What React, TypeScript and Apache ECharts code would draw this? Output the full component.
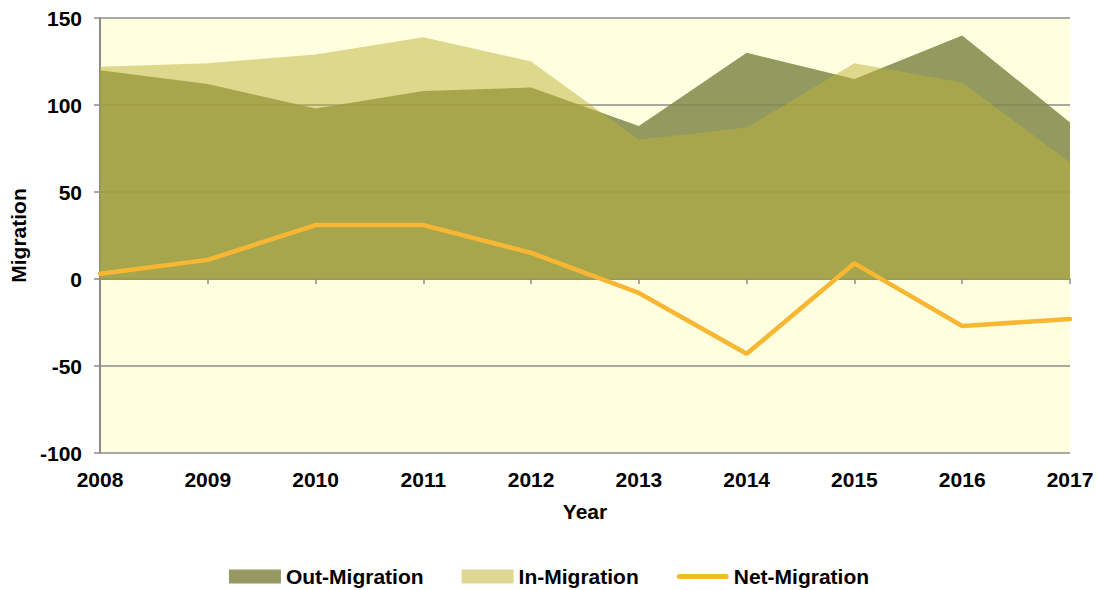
import React, { useEffect, useRef } from "react";
import * as echarts from "echarts";

const years = ["2008", "2009", "2010", "2011", "2012", "2013", "2014", "2015", "2016", "2017"];
const outMigration = [120, 112, 98, 108, 110, 88, 130, 115, 140, 90];
const inMigration = [122, 124, 129, 139, 125, 80, 87, 124, 113, 67];
const netMigration = [3, 11, 31, 31, 15, -8, -43, 9, -27, -23];
const yTicks = { min: -100, max: 150, interval: 50 };

const FONT = "'Liberation Sans', Arial, sans-serif";
const FS = 21;

export default function App() {
  const ref = useRef<HTMLDivElement>(null);
  useEffect(() => {
    if (!ref.current) return;
    const chart = echarts.init(ref.current, undefined, { renderer: "svg" });
    chart.setOption({
      animation: false,
      textStyle: { fontFamily: FONT },
      grid: {
        left: 100,
        right: 28,
        top: 18,
        bottom: 137,
        show: true,
        backgroundColor: "#ffffe0",
        borderWidth: 0,
        containLabel: false,
        outerBoundsMode: "none",
      },
      legend: {
        top: 566,
        left: "center",
        padding: 0,
        itemWidth: 52,
        itemHeight: 14,
        itemGap: 38,
        symbolKeepAspect: true,
        textStyle: { fontFamily: FONT, fontWeight: "bold", fontSize: FS, color: "#000" },
        data: [
          { name: "Out-Migration", icon: "rect", itemStyle: { color: "#969a62" } },
          { name: "In-Migration", icon: "rect", itemStyle: { color: "#dfd893" } },
          {
            name: "Net-Migration",
            icon: "path://M2.5,0 h47 a2.5,2.5 0 0 1 0,5 h-47 a2.5,2.5 0 0 1 0,-5 z",
            itemStyle: { color: "#f7b733" },
          },
        ],
      },
      xAxis: {
        type: "category",
        data: years,
        boundaryGap: false,
        axisLine: { onZero: true, lineStyle: { color: "#8c8c8c", width: 1.5 } },
        axisTick: { show: true, length: 5, lineStyle: { color: "#8c8c8c", width: 1.5 } },
        axisLabel: {
          margin: 16,
          fontFamily: FONT,
          fontWeight: "bold",
          fontSize: FS,
          color: "#000",
          interval: 0,
        },
        name: "Year",
        nameLocation: "middle",
        nameGap: 48,
        nameTextStyle: { fontFamily: FONT, fontWeight: "bold", fontSize: FS, color: "#000" },
        splitLine: { show: false },
      },
      yAxis: {
        type: "value",
        min: yTicks.min,
        max: yTicks.max,
        interval: yTicks.interval,
        axisLine: { show: true, lineStyle: { color: "#8c8c8c", width: 2 } },
        axisTick: { show: true, length: 6, lineStyle: { color: "#8c8c8c", width: 1.5 } },
        axisLabel: {
          margin: 18,
          fontFamily: FONT,
          fontWeight: "bold",
          fontSize: FS,
          color: "#000",
        },
        splitLine: { show: true, lineStyle: { color: "#8c8c8c", width: 1.5 } },
        name: "Migration",
        nameLocation: "middle",
        nameGap: 71,
        nameRotate: 90,
        nameTextStyle: { fontFamily: FONT, fontWeight: "bold", fontSize: FS, color: "#000" },
      },
      series: [
        {
          name: "Out-Migration",
          type: "line",
          data: outMigration,
          symbol: "none",
          lineStyle: { width: 0 },
          itemStyle: { color: "#969a62" },
          areaStyle: { color: "rgb(128,136,73)", opacity: 0.85 },
          z: 1,
        },
        {
          name: "In-Migration",
          type: "line",
          data: inMigration,
          symbol: "none",
          lineStyle: { width: 0 },
          itemStyle: { color: "#dfd893" },
          areaStyle: { color: "rgb(190,178,55)", opacity: 0.5 },
          z: 2,
        },
        {
          name: "Net-Migration",
          type: "line",
          data: netMigration,
          symbol: "none",
          lineStyle: { width: 4.5, color: "#f7b733", cap: "round" },
          itemStyle: { color: "#f7b733" },
          z: 3,
        },
      ],
    });
    return () => chart.dispose();
  }, []);
  return (
    <div
      ref={ref}
      style={{ position: "absolute", left: 0, top: 0, width: 1098, height: 590 }}
    />
  );
}
